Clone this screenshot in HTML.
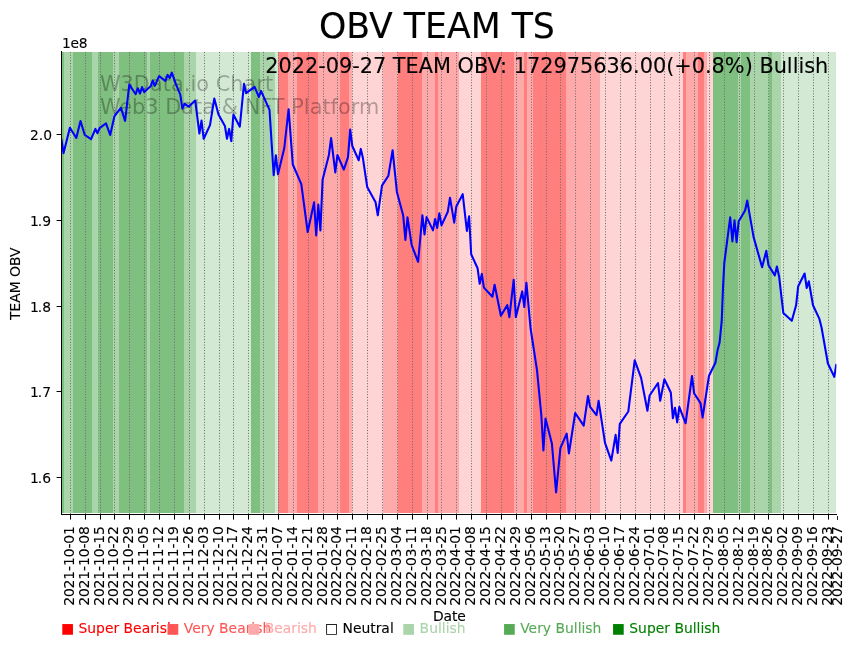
<!DOCTYPE html>
<html lang="en"><head><meta charset="utf-8"><title>OBV TEAM TS</title>
<style>html,body{margin:0;padding:0;background:#fff}body{width:855px;height:646px;overflow:hidden}svg{display:block}.k text,text.ka{stroke:#000;stroke-width:0.1px}text{font-family:"DejaVu Sans","Liberation Sans",sans-serif}</style>
</head><body>
<svg width="855" height="646" viewBox="0 0 855 646">
<rect x="0" y="0" width="855" height="646" fill="#fff"/>
<defs><clipPath id="ax"><rect x="61.4" y="51.9" width="775" height="462"/></clipPath></defs>
<g shape-rendering="crispEdges">
<rect x="62" y="52" width="2" height="461" fill="#7fbf7f"/>
<rect x="64" y="52" width="9" height="461" fill="#aad4aa"/>
<rect x="73" y="52" width="19" height="461" fill="#7fbf7f"/>
<rect x="92" y="52" width="6" height="461" fill="#aad4aa"/>
<rect x="98" y="52" width="15" height="461" fill="#7fbf7f"/>
<rect x="113" y="52" width="6" height="461" fill="#aad4aa"/>
<rect x="119" y="52" width="28" height="461" fill="#7fbf7f"/>
<rect x="147" y="52" width="3" height="461" fill="#aad4aa"/>
<rect x="150" y="52" width="34" height="461" fill="#7fbf7f"/>
<rect x="184" y="52" width="12" height="461" fill="#aad4aa"/>
<rect x="196" y="52" width="55" height="461" fill="#d4e9d4"/>
<rect x="251" y="52" width="9" height="461" fill="#7fbf7f"/>
<rect x="260" y="52" width="15" height="461" fill="#aad4aa"/>
<rect x="275" y="52" width="3" height="461" fill="#d4e9d4"/>
<rect x="278" y="52" width="10" height="461" fill="#ff7f7f"/>
<rect x="288" y="52" width="9" height="461" fill="#ffaaaa"/>
<rect x="297" y="52" width="21" height="461" fill="#ff7f7f"/>
<rect x="318" y="52" width="22" height="461" fill="#ffaaaa"/>
<rect x="340" y="52" width="9" height="461" fill="#ff7f7f"/>
<rect x="349" y="52" width="3" height="461" fill="#ffaaaa"/>
<rect x="352" y="52" width="31" height="461" fill="#ffd4d4"/>
<rect x="383" y="52" width="15" height="461" fill="#ffaaaa"/>
<rect x="398" y="52" width="24" height="461" fill="#ff7f7f"/>
<rect x="422" y="52" width="13" height="461" fill="#ffaaaa"/>
<rect x="435" y="52" width="3" height="461" fill="#ff7f7f"/>
<rect x="438" y="52" width="21" height="461" fill="#ffaaaa"/>
<rect x="459" y="52" width="22" height="461" fill="#ffd4d4"/>
<rect x="481" y="52" width="33" height="461" fill="#ff7f7f"/>
<rect x="514" y="52" width="10" height="461" fill="#ffaaaa"/>
<rect x="524" y="52" width="3" height="461" fill="#ff7f7f"/>
<rect x="527" y="52" width="6" height="461" fill="#ffaaaa"/>
<rect x="533" y="52" width="33" height="461" fill="#ff7f7f"/>
<rect x="566" y="52" width="34" height="461" fill="#ffaaaa"/>
<rect x="600" y="52" width="83" height="461" fill="#ffd4d4"/>
<rect x="683" y="52" width="3" height="461" fill="#ff7f7f"/>
<rect x="686" y="52" width="12" height="461" fill="#ffaaaa"/>
<rect x="698" y="52" width="6" height="461" fill="#ff7f7f"/>
<rect x="704" y="52" width="3" height="461" fill="#ffaaaa"/>
<rect x="707" y="52" width="6" height="461" fill="#ffd4d4"/>
<rect x="713" y="52" width="25" height="461" fill="#7fbf7f"/>
<rect x="738" y="52" width="3" height="461" fill="#aad4aa"/>
<rect x="741" y="52" width="9" height="461" fill="#7fbf7f"/>
<rect x="750" y="52" width="19" height="461" fill="#aad4aa"/>
<rect x="769" y="52" width="3" height="461" fill="#7fbf7f"/>
<rect x="772" y="52" width="9" height="461" fill="#aad4aa"/>
<rect x="781" y="52" width="55" height="461" fill="#d4e9d4"/>
</g>
<g stroke="#6c6c6c" stroke-width="1" stroke-dasharray="1.04 1.72" fill="none">
<line x1="70.5" y1="513.9" x2="70.5" y2="51.9"/>
<line x1="85.5" y1="513.9" x2="85.5" y2="51.9"/>
<line x1="100.5" y1="513.9" x2="100.5" y2="51.9"/>
<line x1="114.5" y1="513.9" x2="114.5" y2="51.9"/>
<line x1="129.5" y1="513.9" x2="129.5" y2="51.9"/>
<line x1="144.5" y1="513.9" x2="144.5" y2="51.9"/>
<line x1="159.5" y1="513.9" x2="159.5" y2="51.9"/>
<line x1="174.5" y1="513.9" x2="174.5" y2="51.9"/>
<line x1="189.5" y1="513.9" x2="189.5" y2="51.9"/>
<line x1="204.5" y1="513.9" x2="204.5" y2="51.9"/>
<line x1="219.5" y1="513.9" x2="219.5" y2="51.9"/>
<line x1="233.5" y1="513.9" x2="233.5" y2="51.9"/>
<line x1="248.5" y1="513.9" x2="248.5" y2="51.9"/>
<line x1="263.5" y1="513.9" x2="263.5" y2="51.9"/>
<line x1="278.5" y1="513.9" x2="278.5" y2="51.9"/>
<line x1="293.5" y1="513.9" x2="293.5" y2="51.9"/>
<line x1="308.5" y1="513.9" x2="308.5" y2="51.9"/>
<line x1="323.5" y1="513.9" x2="323.5" y2="51.9"/>
<line x1="337.5" y1="513.9" x2="337.5" y2="51.9"/>
<line x1="352.5" y1="513.9" x2="352.5" y2="51.9"/>
<line x1="367.5" y1="513.9" x2="367.5" y2="51.9"/>
<line x1="382.5" y1="513.9" x2="382.5" y2="51.9"/>
<line x1="397.5" y1="513.9" x2="397.5" y2="51.9"/>
<line x1="412.5" y1="513.9" x2="412.5" y2="51.9"/>
<line x1="427.5" y1="513.9" x2="427.5" y2="51.9"/>
<line x1="441.5" y1="513.9" x2="441.5" y2="51.9"/>
<line x1="456.5" y1="513.9" x2="456.5" y2="51.9"/>
<line x1="471.5" y1="513.9" x2="471.5" y2="51.9"/>
<line x1="486.5" y1="513.9" x2="486.5" y2="51.9"/>
<line x1="501.5" y1="513.9" x2="501.5" y2="51.9"/>
<line x1="516.5" y1="513.9" x2="516.5" y2="51.9"/>
<line x1="531.5" y1="513.9" x2="531.5" y2="51.9"/>
<line x1="546.5" y1="513.9" x2="546.5" y2="51.9"/>
<line x1="560.5" y1="513.9" x2="560.5" y2="51.9"/>
<line x1="575.5" y1="513.9" x2="575.5" y2="51.9"/>
<line x1="590.5" y1="513.9" x2="590.5" y2="51.9"/>
<line x1="605.5" y1="513.9" x2="605.5" y2="51.9"/>
<line x1="620.5" y1="513.9" x2="620.5" y2="51.9"/>
<line x1="635.5" y1="513.9" x2="635.5" y2="51.9"/>
<line x1="650.5" y1="513.9" x2="650.5" y2="51.9"/>
<line x1="664.5" y1="513.9" x2="664.5" y2="51.9"/>
<line x1="679.5" y1="513.9" x2="679.5" y2="51.9"/>
<line x1="694.5" y1="513.9" x2="694.5" y2="51.9"/>
<line x1="709.5" y1="513.9" x2="709.5" y2="51.9"/>
<line x1="724.5" y1="513.9" x2="724.5" y2="51.9"/>
<line x1="739.5" y1="513.9" x2="739.5" y2="51.9"/>
<line x1="754.5" y1="513.9" x2="754.5" y2="51.9"/>
<line x1="768.5" y1="513.9" x2="768.5" y2="51.9"/>
<line x1="783.5" y1="513.9" x2="783.5" y2="51.9"/>
<line x1="798.5" y1="513.9" x2="798.5" y2="51.9"/>
<line x1="813.5" y1="513.9" x2="813.5" y2="51.9"/>
<line x1="828.5" y1="513.9" x2="828.5" y2="51.9"/>
</g>
<g font-size="20.83px" fill="#000" fill-opacity="0.29" letter-spacing="0.05"><text x="99.9" y="90.6">W3Data.io Chart</text><text x="99.9" y="114.0" letter-spacing="0.02">Web3 Data &amp; NFT Platform</text></g>
<path d="M61.4 138.8 L63.5 153.2 L69.9 127.7 L76.3 138.0 L80.5 121.0 L84.8 135.0 L91.1 139.2 L95.4 128.9 L97.5 133.2 L99.6 128.1 L106.0 123.3 L110.2 135.0 L114.5 116.0 L120.9 107.9 L125.1 121.0 L129.3 84.5 L135.7 94.2 L137.8 88.2 L140.0 93.5 L142.1 87.1 L144.2 92.1 L150.6 86.3 L152.7 80.5 L154.8 85.9 L159.1 76.1 L165.4 81.0 L167.6 74.9 L169.7 78.0 L171.8 72.6 L175.6 83.3 L180.3 94.7 L182.4 108.6 L184.6 103.8 L188.8 106.6 L195.2 100.5 L199.4 133.5 L201.5 120.6 L203.7 138.8 L210.0 125.1 L214.3 98.5 L218.5 114.5 L224.9 125.9 L227.0 138.8 L229.1 128.9 L231.3 141.1 L233.4 114.5 L239.8 126.7 L244.0 83.8 L246.1 93.2 L254.6 86.8 L258.9 97.0 L261.0 90.9 L269.5 109.9 L273.7 175.2 L275.9 155.3 L278.0 174.3 L284.3 148.0 L288.6 109.2 L292.8 164.5 L301.3 184.1 L307.7 232.0 L314.1 202.3 L316.2 235.5 L318.3 204.6 L320.4 230.5 L322.6 179.7 L328.9 155.0 L331.1 138.0 L335.3 172.4 L337.4 155.0 L343.8 169.6 L348.0 157.2 L350.2 129.6 L352.3 146.0 L358.7 160.2 L360.8 148.9 L362.9 158.1 L367.2 187.0 L375.6 202.3 L377.8 215.3 L382.0 185.6 L388.4 175.7 L392.6 150.2 L396.9 191.9 L403.2 215.5 L405.4 239.9 L407.5 217.4 L411.7 245.2 L418.1 261.9 L422.4 215.2 L424.5 234.5 L426.6 217.1 L433.0 230.4 L435.1 219.0 L437.2 228.0 L439.3 213.3 L441.5 225.4 L447.8 211.7 L450.0 197.7 L454.2 222.7 L456.3 206.4 L462.7 194.2 L466.9 231.0 L469.1 216.3 L471.2 254.3 L477.6 268.3 L479.7 283.8 L481.8 273.9 L483.9 287.6 L492.4 296.7 L494.6 284.8 L500.9 315.7 L507.3 305.1 L509.4 317.2 L513.7 279.7 L515.8 317.2 L522.2 291.4 L524.3 307.0 L526.4 282.7 L530.6 328.5 L537.0 370.2 L541.3 415.0 L543.4 450.5 L545.5 418.5 L551.9 443.6 L556.1 492.3 L560.4 448.2 L566.7 433.7 L568.9 453.5 L575.2 413.0 L583.7 425.7 L588.0 396.0 L590.1 406.9 L596.5 415.1 L598.6 400.8 L605.0 442.9 L611.3 460.6 L615.6 434.9 L617.7 453.0 L619.8 423.8 L628.3 411.5 L634.7 360.4 L641.1 377.9 L647.4 410.8 L649.6 395.5 L658.0 383.0 L660.2 400.8 L664.4 379.2 L670.8 392.5 L672.9 418.3 L675.0 407.7 L677.2 422.4 L679.3 406.9 L685.6 423.3 L692.0 376.0 L694.1 393.2 L700.5 403.1 L702.6 417.5 L709.0 375.7 L715.4 362.8 L717.5 350.6 L719.6 342.5 L721.7 321.2 L723.0 287.8 L724.3 263.0 L730.2 217.4 L732.4 241.4 L734.5 220.4 L736.6 242.2 L738.7 221.2 L745.1 210.5 L747.2 200.6 L753.6 237.1 L762.1 267.2 L766.3 250.8 L768.5 265.3 L774.8 275.4 L776.9 266.5 L779.1 276.4 L783.3 312.9 L791.8 320.8 L796.1 305.3 L798.2 286.2 L804.6 273.5 L806.7 288.0 L808.8 281.2 L813.0 305.3 L819.4 318.9 L821.5 327.3 L827.9 363.5 L834.3 376.9 L836.4 364.0" fill="none" stroke="#0000ff" stroke-width="2.08" stroke-linejoin="round" stroke-linecap="butt" clip-path="url(#ax)"/>
<text class="ka" x="828.3" y="73.1" font-size="20.83px" text-anchor="end">2022-09-27 TEAM OBV: 172975636.00(+0.8%) Bullish</text>
<g stroke="#000" stroke-width="1.11" fill="none" shape-rendering="crispEdges">
<rect x="61" y="51" width="1" height="464" fill="#000" stroke="none"/>
<rect x="61" y="514" width="776" height="1" fill="#000" stroke="none"/>
</g>
<g stroke="#000" stroke-width="1" fill="none" shape-rendering="crispEdges">
<line x1="70.5" y1="515" x2="70.5" y2="519"/><line x1="70.5" y1="519" x2="70.5" y2="520" opacity="0.6"/>
<line x1="85.5" y1="515" x2="85.5" y2="519"/><line x1="85.5" y1="519" x2="85.5" y2="520" opacity="0.6"/>
<line x1="100.5" y1="515" x2="100.5" y2="519"/><line x1="100.5" y1="519" x2="100.5" y2="520" opacity="0.6"/>
<line x1="114.5" y1="515" x2="114.5" y2="519"/><line x1="114.5" y1="519" x2="114.5" y2="520" opacity="0.6"/>
<line x1="129.5" y1="515" x2="129.5" y2="519"/><line x1="129.5" y1="519" x2="129.5" y2="520" opacity="0.6"/>
<line x1="144.5" y1="515" x2="144.5" y2="519"/><line x1="144.5" y1="519" x2="144.5" y2="520" opacity="0.6"/>
<line x1="159.5" y1="515" x2="159.5" y2="519"/><line x1="159.5" y1="519" x2="159.5" y2="520" opacity="0.6"/>
<line x1="174.5" y1="515" x2="174.5" y2="519"/><line x1="174.5" y1="519" x2="174.5" y2="520" opacity="0.6"/>
<line x1="189.5" y1="515" x2="189.5" y2="519"/><line x1="189.5" y1="519" x2="189.5" y2="520" opacity="0.6"/>
<line x1="204.5" y1="515" x2="204.5" y2="519"/><line x1="204.5" y1="519" x2="204.5" y2="520" opacity="0.6"/>
<line x1="219.5" y1="515" x2="219.5" y2="519"/><line x1="219.5" y1="519" x2="219.5" y2="520" opacity="0.6"/>
<line x1="233.5" y1="515" x2="233.5" y2="519"/><line x1="233.5" y1="519" x2="233.5" y2="520" opacity="0.6"/>
<line x1="248.5" y1="515" x2="248.5" y2="519"/><line x1="248.5" y1="519" x2="248.5" y2="520" opacity="0.6"/>
<line x1="263.5" y1="515" x2="263.5" y2="519"/><line x1="263.5" y1="519" x2="263.5" y2="520" opacity="0.6"/>
<line x1="278.5" y1="515" x2="278.5" y2="519"/><line x1="278.5" y1="519" x2="278.5" y2="520" opacity="0.6"/>
<line x1="293.5" y1="515" x2="293.5" y2="519"/><line x1="293.5" y1="519" x2="293.5" y2="520" opacity="0.6"/>
<line x1="308.5" y1="515" x2="308.5" y2="519"/><line x1="308.5" y1="519" x2="308.5" y2="520" opacity="0.6"/>
<line x1="323.5" y1="515" x2="323.5" y2="519"/><line x1="323.5" y1="519" x2="323.5" y2="520" opacity="0.6"/>
<line x1="337.5" y1="515" x2="337.5" y2="519"/><line x1="337.5" y1="519" x2="337.5" y2="520" opacity="0.6"/>
<line x1="352.5" y1="515" x2="352.5" y2="519"/><line x1="352.5" y1="519" x2="352.5" y2="520" opacity="0.6"/>
<line x1="367.5" y1="515" x2="367.5" y2="519"/><line x1="367.5" y1="519" x2="367.5" y2="520" opacity="0.6"/>
<line x1="382.5" y1="515" x2="382.5" y2="519"/><line x1="382.5" y1="519" x2="382.5" y2="520" opacity="0.6"/>
<line x1="397.5" y1="515" x2="397.5" y2="519"/><line x1="397.5" y1="519" x2="397.5" y2="520" opacity="0.6"/>
<line x1="412.5" y1="515" x2="412.5" y2="519"/><line x1="412.5" y1="519" x2="412.5" y2="520" opacity="0.6"/>
<line x1="427.5" y1="515" x2="427.5" y2="519"/><line x1="427.5" y1="519" x2="427.5" y2="520" opacity="0.6"/>
<line x1="441.5" y1="515" x2="441.5" y2="519"/><line x1="441.5" y1="519" x2="441.5" y2="520" opacity="0.6"/>
<line x1="456.5" y1="515" x2="456.5" y2="519"/><line x1="456.5" y1="519" x2="456.5" y2="520" opacity="0.6"/>
<line x1="471.5" y1="515" x2="471.5" y2="519"/><line x1="471.5" y1="519" x2="471.5" y2="520" opacity="0.6"/>
<line x1="486.5" y1="515" x2="486.5" y2="519"/><line x1="486.5" y1="519" x2="486.5" y2="520" opacity="0.6"/>
<line x1="501.5" y1="515" x2="501.5" y2="519"/><line x1="501.5" y1="519" x2="501.5" y2="520" opacity="0.6"/>
<line x1="516.5" y1="515" x2="516.5" y2="519"/><line x1="516.5" y1="519" x2="516.5" y2="520" opacity="0.6"/>
<line x1="531.5" y1="515" x2="531.5" y2="519"/><line x1="531.5" y1="519" x2="531.5" y2="520" opacity="0.6"/>
<line x1="546.5" y1="515" x2="546.5" y2="519"/><line x1="546.5" y1="519" x2="546.5" y2="520" opacity="0.6"/>
<line x1="560.5" y1="515" x2="560.5" y2="519"/><line x1="560.5" y1="519" x2="560.5" y2="520" opacity="0.6"/>
<line x1="575.5" y1="515" x2="575.5" y2="519"/><line x1="575.5" y1="519" x2="575.5" y2="520" opacity="0.6"/>
<line x1="590.5" y1="515" x2="590.5" y2="519"/><line x1="590.5" y1="519" x2="590.5" y2="520" opacity="0.6"/>
<line x1="605.5" y1="515" x2="605.5" y2="519"/><line x1="605.5" y1="519" x2="605.5" y2="520" opacity="0.6"/>
<line x1="620.5" y1="515" x2="620.5" y2="519"/><line x1="620.5" y1="519" x2="620.5" y2="520" opacity="0.6"/>
<line x1="635.5" y1="515" x2="635.5" y2="519"/><line x1="635.5" y1="519" x2="635.5" y2="520" opacity="0.6"/>
<line x1="650.5" y1="515" x2="650.5" y2="519"/><line x1="650.5" y1="519" x2="650.5" y2="520" opacity="0.6"/>
<line x1="664.5" y1="515" x2="664.5" y2="519"/><line x1="664.5" y1="519" x2="664.5" y2="520" opacity="0.6"/>
<line x1="679.5" y1="515" x2="679.5" y2="519"/><line x1="679.5" y1="519" x2="679.5" y2="520" opacity="0.6"/>
<line x1="694.5" y1="515" x2="694.5" y2="519"/><line x1="694.5" y1="519" x2="694.5" y2="520" opacity="0.6"/>
<line x1="709.5" y1="515" x2="709.5" y2="519"/><line x1="709.5" y1="519" x2="709.5" y2="520" opacity="0.6"/>
<line x1="724.5" y1="515" x2="724.5" y2="519"/><line x1="724.5" y1="519" x2="724.5" y2="520" opacity="0.6"/>
<line x1="739.5" y1="515" x2="739.5" y2="519"/><line x1="739.5" y1="519" x2="739.5" y2="520" opacity="0.6"/>
<line x1="754.5" y1="515" x2="754.5" y2="519"/><line x1="754.5" y1="519" x2="754.5" y2="520" opacity="0.6"/>
<line x1="768.5" y1="515" x2="768.5" y2="519"/><line x1="768.5" y1="519" x2="768.5" y2="520" opacity="0.6"/>
<line x1="783.5" y1="515" x2="783.5" y2="519"/><line x1="783.5" y1="519" x2="783.5" y2="520" opacity="0.6"/>
<line x1="798.5" y1="515" x2="798.5" y2="519"/><line x1="798.5" y1="519" x2="798.5" y2="520" opacity="0.6"/>
<line x1="813.5" y1="515" x2="813.5" y2="519"/><line x1="813.5" y1="519" x2="813.5" y2="520" opacity="0.6"/>
<line x1="828.5" y1="515" x2="828.5" y2="519"/><line x1="828.5" y1="519" x2="828.5" y2="520" opacity="0.6"/>
<rect x="837" y="516" width="1" height="4" fill="#000" stroke="none" opacity="0.85"/>
<rect x="56.55" y="134.0" width="4.45" height="1" fill="#000" stroke="none" shape-rendering="auto"/>
<rect x="56.55" y="220.0" width="4.45" height="1" fill="#000" stroke="none" shape-rendering="auto"/>
<rect x="56.55" y="306.0" width="4.45" height="1" fill="#000" stroke="none" shape-rendering="auto"/>
<rect x="56.55" y="391.0" width="4.45" height="1" fill="#000" stroke="none" shape-rendering="auto"/>
<rect x="56.55" y="477.0" width="4.45" height="1" fill="#000" stroke="none" shape-rendering="auto"/>
</g>
<g class="k" font-size="13.89px" text-anchor="end">
<text x="52.1" y="139.7">2.0</text>
<text x="51.1" y="225.7">1<tspan dx="-1">.9</tspan></text>
<text x="51.1" y="311.7">1<tspan dx="-1">.8</tspan></text>
<text x="51.1" y="396.7">1<tspan dx="-1">.7</tspan></text>
<text x="51.1" y="482.7">1<tspan dx="-1">.6</tspan></text>
</g>
<g class="k"><text x="62.0" y="48.3" font-size="13.89px" letter-spacing="-0.25">1e8</text>
<text transform="translate(20.15 283.7) rotate(-90)" font-size="13.89px" text-anchor="middle">TEAM OBV</text>
<g class="k" font-size="13.89px" text-anchor="end" letter-spacing="-0.1">
<text transform="translate(73.79 526.2) rotate(-90)">2021-10-01</text>
<text transform="translate(88.66 526.2) rotate(-90)">2021-10-08</text>
<text transform="translate(103.52 526.2) rotate(-90)">2021-10-15</text>
<text transform="translate(118.38 526.2) rotate(-90)">2021-10-22</text>
<text transform="translate(133.25 526.2) rotate(-90)">2021-10-29</text>
<text transform="translate(148.11 526.2) rotate(-90)">2021-11-05</text>
<text transform="translate(162.97 526.2) rotate(-90)">2021-11-12</text>
<text transform="translate(177.83 526.2) rotate(-90)">2021-11-19</text>
<text transform="translate(192.70 526.2) rotate(-90)">2021-11-26</text>
<text transform="translate(207.56 526.2) rotate(-90)">2021-12-03</text>
<text transform="translate(222.72 526.2) rotate(-90)">2021-12-10</text>
<text transform="translate(237.29 526.2) rotate(-90)">2021-12-17</text>
<text transform="translate(252.15 526.2) rotate(-90)">2021-12-24</text>
<text transform="translate(267.01 526.2) rotate(-90)">2021-12-31</text>
<text transform="translate(281.88 526.2) rotate(-90)">2022-01-07</text>
<text transform="translate(296.74 526.2) rotate(-90)">2022-01-14</text>
<text transform="translate(311.60 526.2) rotate(-90)">2022-01-21</text>
<text transform="translate(326.76 526.2) rotate(-90)">2022-01-28</text>
<text transform="translate(341.33 526.2) rotate(-90)">2022-02-04</text>
<text transform="translate(356.19 526.2) rotate(-90)">2022-02-11</text>
<text transform="translate(371.05 526.2) rotate(-90)">2022-02-18</text>
<text transform="translate(385.92 526.2) rotate(-90)">2022-02-25</text>
<text transform="translate(400.78 526.2) rotate(-90)">2022-03-04</text>
<text transform="translate(415.64 526.2) rotate(-90)">2022-03-11</text>
<text transform="translate(430.51 526.2) rotate(-90)">2022-03-18</text>
<text transform="translate(445.67 526.2) rotate(-90)">2022-03-25</text>
<text transform="translate(460.23 526.2) rotate(-90)">2022-04-01</text>
<text transform="translate(475.09 526.2) rotate(-90)">2022-04-08</text>
<text transform="translate(489.96 526.2) rotate(-90)">2022-04-15</text>
<text transform="translate(504.82 526.2) rotate(-90)">2022-04-22</text>
<text transform="translate(519.68 526.2) rotate(-90)">2022-04-29</text>
<text transform="translate(534.55 526.2) rotate(-90)">2022-05-06</text>
<text transform="translate(549.71 526.2) rotate(-90)">2022-05-13</text>
<text transform="translate(564.27 526.2) rotate(-90)">2022-05-20</text>
<text transform="translate(579.14 526.2) rotate(-90)">2022-05-27</text>
<text transform="translate(594.00 526.2) rotate(-90)">2022-06-03</text>
<text transform="translate(608.86 526.2) rotate(-90)">2022-06-10</text>
<text transform="translate(623.72 526.2) rotate(-90)">2022-06-17</text>
<text transform="translate(638.59 526.2) rotate(-90)">2022-06-24</text>
<text transform="translate(653.75 526.2) rotate(-90)">2022-07-01</text>
<text transform="translate(668.31 526.2) rotate(-90)">2022-07-08</text>
<text transform="translate(683.18 526.2) rotate(-90)">2022-07-15</text>
<text transform="translate(698.04 526.2) rotate(-90)">2022-07-22</text>
<text transform="translate(712.90 526.2) rotate(-90)">2022-07-29</text>
<text transform="translate(727.77 526.2) rotate(-90)">2022-08-05</text>
<text transform="translate(742.63 526.2) rotate(-90)">2022-08-12</text>
<text transform="translate(757.79 526.2) rotate(-90)">2022-08-19</text>
<text transform="translate(772.35 526.2) rotate(-90)">2022-08-26</text>
<text transform="translate(787.22 526.2) rotate(-90)">2022-09-02</text>
<text transform="translate(802.08 526.2) rotate(-90)">2022-09-09</text>
<text transform="translate(816.94 526.2) rotate(-90)">2022-09-16</text>
<text transform="translate(831.81 526.2) rotate(-90)">2022-09-23</text>
<text transform="translate(842.20 526.2) rotate(-90)">2022-09-27</text>
</g>
<text x="433.0" y="621.0" font-size="13.89px" letter-spacing="-0.1">Date</text>
<text x="436.9" y="38.3" font-size="34.72px" text-anchor="middle">OBV TEAM TS</text></g>
<g font-size="13.89px">
<text x="61.0" y="633.4" fill="#ff0000" stroke="#ff0000" stroke-width="0.1" style="fill:#ff0000">■ Super Bearish</text>
<text x="166.3" y="633.4" fill="#ff5555" stroke="#ff5555" stroke-width="0.1" style="fill:#ff5555">■ Very Bearish</text>
<text x="247.2" y="633.4" fill="#ffaaaa" stroke="#ffaaaa" stroke-width="0.1" style="fill:#ffaaaa">■ Bearish</text>
<text x="325.0" y="633.4" fill="#000000" stroke="#000000" stroke-width="0.1" style="fill:#000000">□ Neutral</text>
<text x="402.1" y="633.4" fill="#aad4aa" stroke="#aad4aa" stroke-width="0.1" style="fill:#aad4aa">■ Bullish</text>
<text x="502.7" y="633.4" fill="#55aa55" stroke="#55aa55" stroke-width="0.1" style="fill:#55aa55">■ Very Bullish</text>
<text x="611.8" y="633.4" fill="#008000" stroke="#008000" stroke-width="0.1" style="fill:#008000">■ Super Bullish</text>
</g>
</svg></body></html>
